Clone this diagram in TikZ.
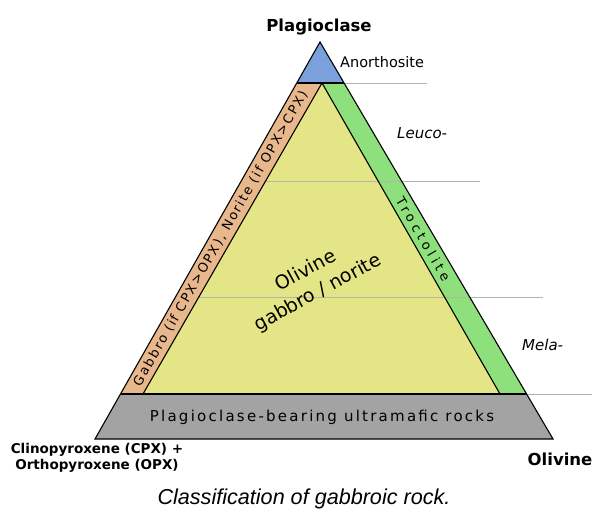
\documentclass[tikz,border=0pt]{standalone}
\usepackage{fontspec}
\setmainfont{DejaVu Sans}
\newfontfamily\capfont{Liberation Sans}
\definecolor{cblue}{HTML}{7BA1DC}
\definecolor{corange}{HTML}{E8B88C}
\definecolor{cyellow}{HTML}{E4E586}
\definecolor{cgreen}{HTML}{8EE07C}
\definecolor{cgray}{HTML}{A3A3A3}
\definecolor{cline}{HTML}{B4B4A8}
\begin{document}
\begin{tikzpicture}[x=1pt,y=-1pt,
  outline/.style={draw=black,line width=1.1pt,line join=miter},
  level/.style={draw=cline,line width=0.9pt},
  lbl/.style={inner sep=0pt,font=\fontsize{15}{17}\selectfont},
  corner/.style={inner sep=0pt,font=\bfseries\fontsize{16.5}{19}\selectfont},
  small/.style={inner sep=0pt,align=center,font=\bfseries\fontsize{13.5}{16.5}\selectfont}]
\useasboundingbox (0,0) rectangle (593,510);
% key points
\coordinate (A) at (320,42);
\coordinate (BL) at (95,439);
\coordinate (BR) at (553,439);
\coordinate (TL) at (296.8,83);
\coordinate (TR) at (344.1,83);
\coordinate (Y) at (322,83);
\coordinate (YL) at (143,394);
\coordinate (YR) at (500,394);
\coordinate (GL) at (120.5,394);
\coordinate (GR) at (526.6,394);
% fills
\fill[cblue] (A) -- (TR) -- (TL) -- cycle;
\fill[corange] (TL) -- (Y) -- (YL) -- (GL) -- cycle;
\fill[cgreen] (Y) -- (TR) -- (GR) -- (YR) -- cycle;
\fill[cyellow] (Y) -- (YR) -- (YL) -- cycle;
\fill[cgray] (GL) -- (GR) -- (BR) -- (BL) -- cycle;
% level lines
\coordinate (l1a) at (265.2,181.5);
\coordinate (l1b) at (480,181.5);
\coordinate (l2a) at (199,297);
\coordinate (l2b) at (543,297);
\coordinate (l0b) at (427,83);
\coordinate (l3b) at (592,394);
\draw[level] (TR) -- (l0b);
\draw[level] (l1a) -- (l1b);
\draw[level] (l2a) -- (l2b);
\draw[level] (GR) -- (l3b);
% outlines
\draw[outline] (A) -- (BR) -- (BL) -- cycle;
\draw[outline] (TL) -- (TR);
\draw[outline] (GL) -- (GR);
\draw[outline] (Y) -- (YL);
\draw[outline] (Y) -- (YR);
% labels
\node[corner] (plag) at (319,27) {Plagioclase};
\node[corner] (oliv) at (560,459) {Olivine};
\node[small] (px) at (97,458) {Clinopyroxene (CPX) +\\Orthopyroxene (OPX)};
\node[lbl,anchor=west,font=\fontsize{14.5}{17}\selectfont] (ano) at (340,62) {Anorthosite};
\node[lbl,anchor=west,font=\itshape\fontsize{15}{17}\selectfont] (leuco) at (397,133) {Leuco-};
\node[lbl,anchor=west,font=\itshape\fontsize{15}{17}\selectfont] (mela) at (522,345) {Mela-};
\node[lbl,align=center,rotate=28.5,font=\fontsize{19}{25}\selectfont] (ogn) at (312,282) {Olivine\\gabbro / norite};
\node[lbl,rotate=60.25,font=\fontsize{13}{15}\selectfont] (gab) at (220.6,238.5)
  {\addfontfeature{LetterSpace=14}Gabbro (if CPX>OPX), Norite (if OPX>CPX)};
\node[lbl,rotate=-59.9,font=\fontsize{13}{15}\selectfont] (troc) at (423.4,239)
  {\addfontfeature{LetterSpace=30}Troctolite};
\node[lbl,font=\fontsize{15}{17}\selectfont] (pbur) at (322,417)
  {\addfontfeature{LetterSpace=15}Plagioclase-bearing ultramafic rocks};
\node[inner sep=0pt,font=\capfont\itshape\fontsize{21.6}{25}\selectfont] (cap) at (304,499) {Classification of gabbroic rock.};
\end{tikzpicture}
\end{document}
